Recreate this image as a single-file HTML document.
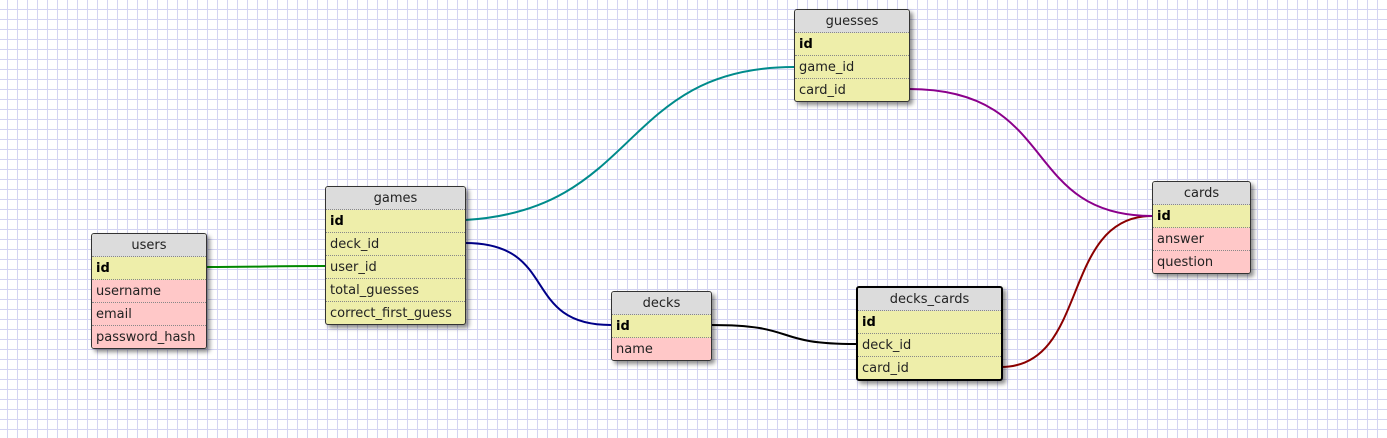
<!DOCTYPE html>
<html><head><style>
body{margin:0;width:1387px;height:438px;overflow:hidden;background:#fff;
background-image:linear-gradient(to right,#d4d4f2 1px,transparent 1px),linear-gradient(to bottom,#d4d4f2 1px,transparent 1px);
background-size:10px 10px;background-position:7px 9px;font-family:"DejaVu Sans","Liberation Sans",sans-serif;font-size:13px;}
.t{position:absolute;border:1px solid #333;border-radius:3px;box-shadow:3px 3px 4px rgba(0,0,0,.45);background:#eeeeaa;overflow:hidden}
.t.sel{border:2px solid #000}
.h{background:#dcdcdc;text-align:center;height:22px;line-height:24px;border-bottom:1px dotted #888;color:#222}
.r{height:22px;line-height:24px;padding-left:4px;border-bottom:1px dotted #888;color:#222;white-space:nowrap}
.r:last-child{border-bottom:none}
.k{font-weight:bold;color:#000}
.p{background:#ffc8c8}
svg{position:absolute;left:0;top:0}
</style></head><body>
<svg width="1387" height="438" fill="none" stroke-width="2">
<path d="M206 267 C260 267 270 266 325 266" stroke="#008800"/>
<path d="M465 220 C640 210 620 67 794 67" stroke="#008b8b"/>
<path d="M465 243 C560 243 520 325 611 325" stroke="#000088"/>
<path d="M711 325 C800 325 770 344 856 344" stroke="#000"/>
<path d="M1001 367 C1090 367 1060 216 1152 216" stroke="#8b0000"/>
<path d="M909 89 C1060 89 1020 216 1152 216" stroke="#8b008b"/>
</svg>
<div class="t" style="left:91px;top:233px;width:114px">
<div class="h">users</div><div class="r k">id</div><div class="r p">username</div><div class="r p">email</div><div class="r p">password_hash</div></div>
<div class="t" style="left:325px;top:186px;width:139px">
<div class="h">games</div><div class="r k">id</div><div class="r">deck_id</div><div class="r">user_id</div><div class="r">total_guesses</div><div class="r">correct_first_guess</div></div>
<div class="t" style="left:794px;top:9px;width:114px">
<div class="h">guesses</div><div class="r k">id</div><div class="r">game_id</div><div class="r">card_id</div></div>
<div class="t" style="left:1152px;top:181px;width:97px">
<div class="h">cards</div><div class="r k">id</div><div class="r p">answer</div><div class="r p">question</div></div>
<div class="t" style="left:611px;top:291px;width:99px">
<div class="h">decks</div><div class="r k">id</div><div class="r p">name</div></div>
<div class="t sel" style="left:856px;top:286px;width:143px">
<div class="h">decks_cards</div><div class="r k">id</div><div class="r">deck_id</div><div class="r">card_id</div></div>
</body></html>
